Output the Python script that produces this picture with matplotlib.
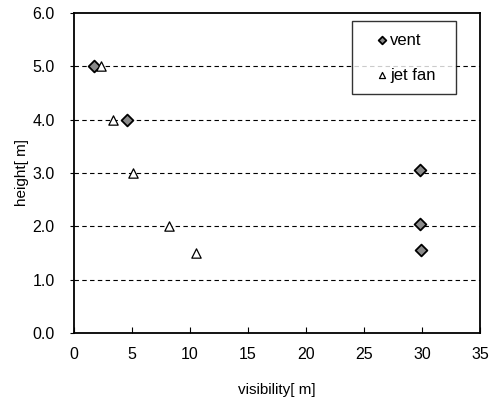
import matplotlib
matplotlib.use("Agg")
import matplotlib.pyplot as plt
from matplotlib.ticker import FormatStrFormatter

plt.rcParams["font.family"] = ["Liberation Sans", "DejaVu Sans"]

vent_x = [1.7, 4.6, 29.8, 29.8, 29.9]
vent_y = [5.0, 4.0, 3.05, 2.05, 1.55]
jet_x = [2.3, 3.4, 5.1, 8.2, 10.5]
jet_y = [5.0, 4.0, 3.0, 2.0, 1.5]

fig = plt.figure(figsize=(4.95, 4.05), dpi=100)
ax = fig.add_axes([0.1495, 0.178, 0.8205, 0.79])

for y in [1, 2, 3, 4, 5]:
    ax.axhline(y, color="black", lw=0.8, ls=(0, (4, 3)), zorder=1)

ax.scatter(vent_x, vent_y, marker="D", s=36, facecolor="#8a8a8a",
           edgecolor="black", linewidth=1.3, zorder=3, label="vent")
ax.scatter(jet_x, jet_y, marker="^", s=45, facecolor="white",
           edgecolor="black", linewidth=0.9, zorder=3, label="jet fan")

ax.set_xlim(0, 35)
ax.set_ylim(0, 6)
ax.set_xticks(range(0, 36, 5))
ax.set_yticks([0, 1, 2, 3, 4, 5, 6])
ax.yaxis.set_major_formatter(FormatStrFormatter("%.1f"))
ax.tick_params(axis="x", direction="in", length=4, labelsize=11.5, pad=10)
ax.tick_params(axis="y", direction="out", length=3, labelsize=11.5, pad=11)
for s in ax.spines.values():
    s.set_linewidth(1.3)

ax.set_xlabel("visibility[ m]", fontsize=11, labelpad=15)
ax.set_ylabel("height[ m]", fontsize=11, labelpad=2)

leg = ax.legend(loc="upper left", bbox_to_anchor=(0.685, 0.5, 0.256, 0.475),
                mode="expand", fontsize=12,
                frameon=True, fancybox=False, edgecolor="black",
                handletextpad=-0.62, borderpad=0.7, labelspacing=1.2,
                handlelength=2.2, markerscale=0.65, borderaxespad=0)
leg.get_frame().set_linewidth(1.0)

fig.savefig("out.png", dpi=100)
